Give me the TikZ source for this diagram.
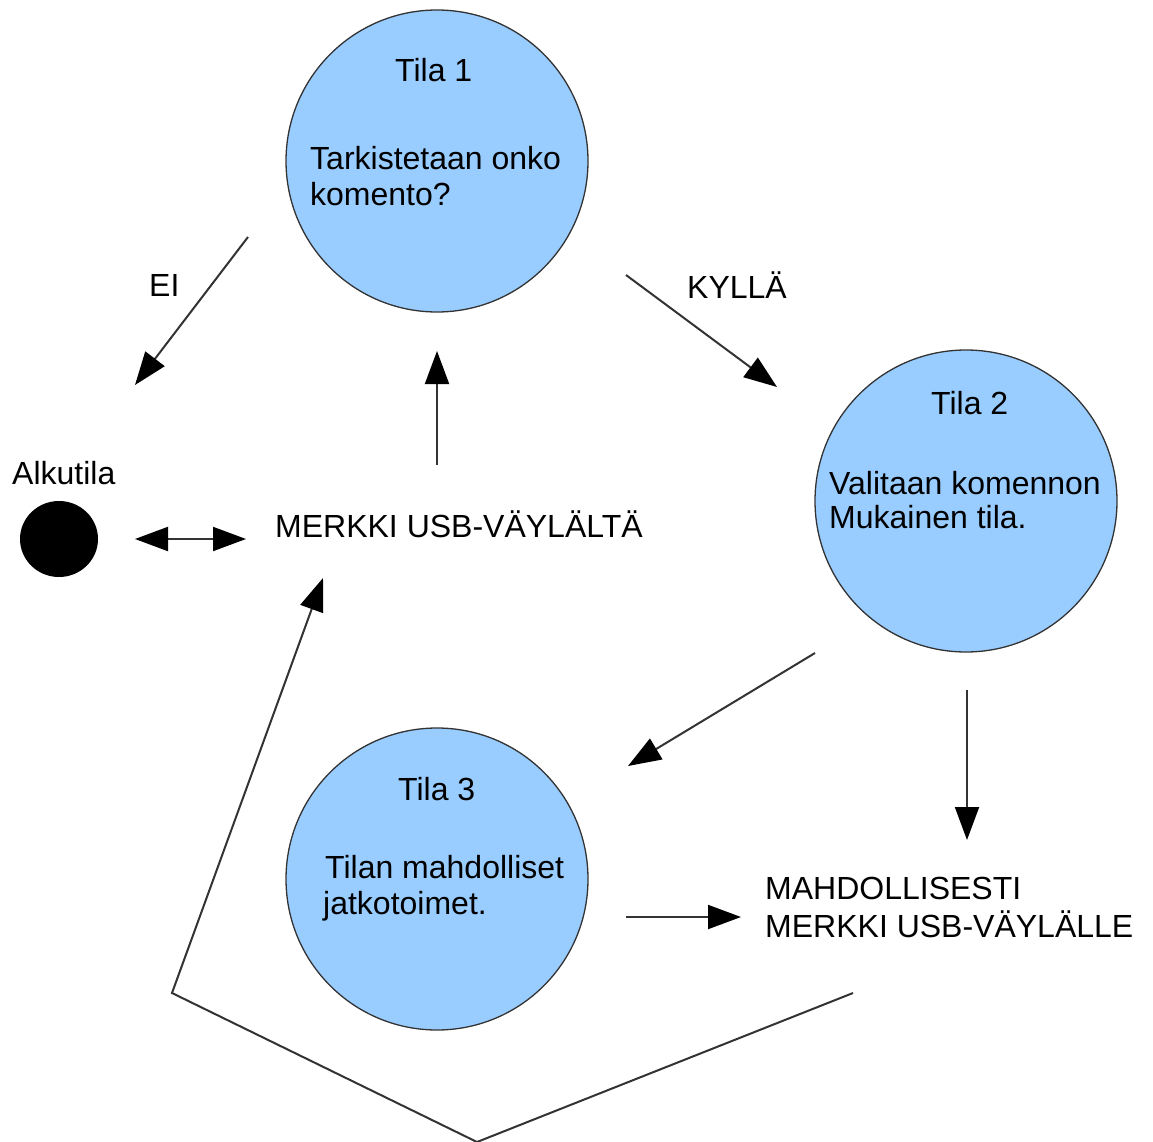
\documentclass[tikz,border=0pt]{standalone}
\usepackage{fontspec}
\setmainfont{Liberation Sans}
\usetikzlibrary{arrows.meta,shapes.geometric}
\definecolor{statefill}{HTML}{99CCFF}
\definecolor{linegray}{HTML}{333333}
\begin{document}
\begin{tikzpicture}[x=1pt,y=-1pt,
  statecircle/.style={circle,draw=linegray,line width=1.3pt,fill=statefill,minimum size=302pt,inner sep=0pt},
  txt/.style={anchor=base west,inner sep=0pt,font=\fontsize{32}{36}\selectfont},
  conn/.style={draw=linegray,line width=2pt,-{Triangle[length=33pt,width=24pt,fill=black,color=black]}},
  plainline/.style={draw=linegray,line width=2pt}]
\useasboundingbox (0,0) rectangle (1153,1142);

% states
\node[statecircle] (s1) at (437,161) {};
\node[statecircle] (s2) at (966,501) {};
\node[statecircle] (s3) at (437,879) {};
\node[ellipse,fill=black,minimum width=78pt,minimum height=76pt,inner sep=0pt] (start) at (59,539) {};

% texts
\node[txt] (t1) at (395,82) {Tila 1};
\node[txt] (t1a) at (310,170) {Tarkistetaan onko};
\node[txt] (t1b) at (310,205) {komento?};
\node[txt] (t2) at (931,414) {Tila 2};
\node[txt] (t2a) at (829,494) {Valitaan komennon};
\node[txt] (t2b) at (829,528) {Mukainen tila.};
\node[txt] (t3) at (398,800) {Tila 3};
\node[txt] (t3a) at (325,878) {Tilan mahdolliset};
\node[txt] (t3b) at (323,914) {jatkotoimet.};
\node[txt] (alku) at (12,484) {Alkutila};
\node[txt] (merkin) at (275,537) {MERKKI USB-VÄYLÄLTÄ};
\node[txt] (mahd) at (765,899) {MAHDOLLISESTI};
\node[txt] (merkout) at (765,937) {MERKKI USB-VÄYLÄLLE};
\node[txt] (ei) at (149,296) {EI};
\node[txt] (kylla) at (687,298) {KYLLÄ};

% connector end points
\coordinate (eiA) at (248,237);   \coordinate (eiB) at (135,385);
\coordinate (upA) at (437,465);   \coordinate (upB) at (437,351);
\coordinate (kyA) at (626,275);   \coordinate (kyB) at (777,387);
\coordinate (dlA) at (815,653);   \coordinate (dlB) at (628,766);
\coordinate (dnA) at (967,690);   \coordinate (dnB) at (967,840);
\coordinate (rtA) at (626,917);   \coordinate (rtB) at (741,917);
\coordinate (dbA) at (135,539);   \coordinate (dbB) at (246,539);
\coordinate (lpA) at (853,993);
\coordinate (lpB) at (477,1142);
\coordinate (lpC) at (172,993);
\coordinate (lpD) at (323,578);

% connectors
\draw[conn] (eiA) -- (eiB);
\draw[conn] (upA) -- (upB);
\draw[conn] (kyA) -- (kyB);
\draw[conn] (dlA) -- (dlB);
\draw[conn] (dnA) -- (dnB);
\draw[conn] (rtA) -- (rtB);
\draw[conn,{Triangle[length=33pt,width=24pt,fill=black,color=black]}-{Triangle[length=33pt,width=24pt,fill=black,color=black]}] (dbA) -- (dbB);
\draw[conn] (lpA) -- (lpB) -- (lpC) -- (lpD);
\end{tikzpicture}
\end{document}
